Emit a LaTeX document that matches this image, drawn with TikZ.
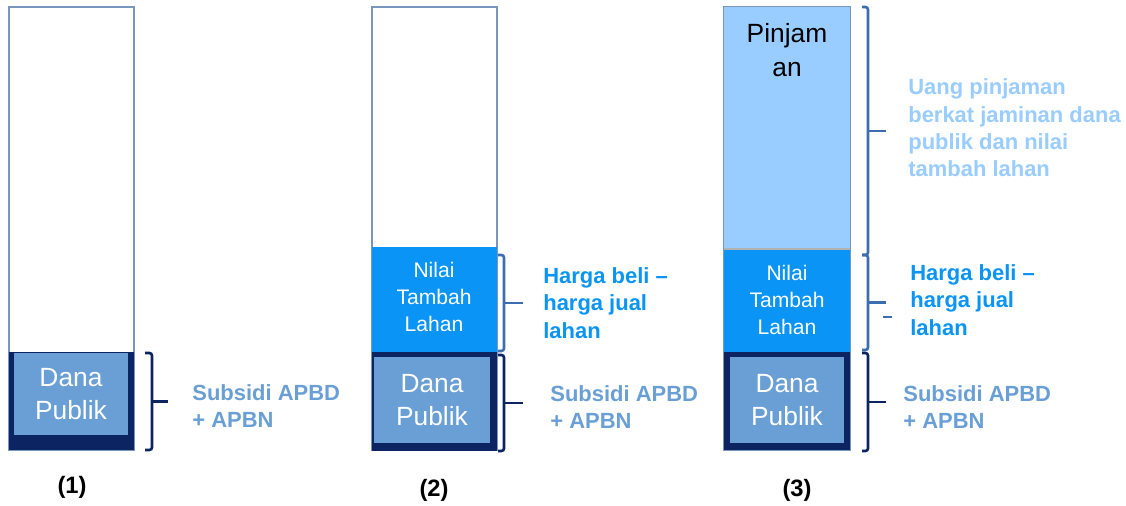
\documentclass[tikz,border=0pt]{standalone}
\usepackage{fontspec}
\setmainfont{Liberation Sans}
\usepackage{tikz}

\definecolor{navy}{RGB}{12,36,97}
\definecolor{publik}{RGB}{106,159,214}
\definecolor{nilai}{RGB}{10,148,245}
\definecolor{pinjam}{RGB}{153,204,255}
\definecolor{outline}{RGB}{120,150,190}
\definecolor{steel}{RGB}{58,110,175}

\tikzset{
	bar/.style={draw=outline, line width=0.6pt},
	boxtext/.style={align=center, text=white, inner sep=0pt},
	sidetext/.style={anchor=west, align=left, inner sep=0pt, font=\bfseries\fontsize{12.5}{15.6}\selectfont},
	caption/.style={inner sep=0pt, font=\bfseries\fontsize{13.5}{16}\selectfont},
	bracket/.style={line width=1.5pt, rounded corners=1.5pt}
}

% bracket: x0, x1, top, bottom, tip x, colour
\newcommand{\sidebracket}[6]{
	\draw[bracket, #6] (#1,#3) -- (#2,#3) -- (#2,#4) -- (#1,#4);
	\draw[bracket, #6] (#2,{(#3+#4)/2}) -- (#5,{(#3+#4)/2});
}

\begin{document}
\begin{tikzpicture}[x=0.02cm, y=-0.02cm]
	\useasboundingbox (0,0) rectangle (1126,506);

	% (1)
	\draw[bar] (9,7) rectangle (134,450);
	\fill[navy] (9,352) rectangle (134,450);
	\fill[publik] (14,353) rectangle (128,435);
	\node[boxtext, font=\fontsize{15}{18.7}\selectfont] (dana1) at (71,394) {Dana\\Publik};
	\sidebracket{145}{152}{353}{450}{168}{navy}
	\node[sidetext, text=publik] (subsidi1) at (192,406) {Subsidi APBD\\+ APBN};
	\node[caption] (cap1) at (72,487) {(1)};

	% (2)
	\draw[bar] (372,7) rectangle (497,450);
	\fill[nilai] (372,247) rectangle (497,352);
	\fill[navy] (372,352) rectangle (497,451);
	\fill[publik] (374,357) rectangle (490,443);
	\node[boxtext, font=\fontsize{12}{15.3}\selectfont] (nilai2) at (434,297) {Nilai\\Tambah\\Lahan};
	\node[boxtext, font=\fontsize{15}{18.7}\selectfont] (dana2) at (432,400) {Dana\\Publik};
	\sidebracket{498}{504}{255}{351}{523}{steel}
	\sidebracket{498}{504}{355}{451}{523}{navy}
	\node[sidetext, text=nilai] (harga2) at (543,303) {Harga beli --\\harga jual\\lahan};
	\node[sidetext, text=publik] (subsidi2) at (550,407) {Subsidi APBD\\+ APBN};
	\node[caption] (cap2) at (434,490) {(2)};

	% (3)
	\draw[bar] (724,7) rectangle (850,450);
	\fill[pinjam] (724,7) rectangle (850,250);
	\draw[gray!60, line width=0.8pt] (724,249) -- (850,249);
	\fill[nilai] (724,250) rectangle (850,352);
	\fill[navy] (724,352) rectangle (850,450);
	\fill[publik] (730,357) rectangle (844,443);
	\node[boxtext, text=black, font=\fontsize{15}{19.8}\selectfont] (pinjam3) at (787,50) {Pinjam\\an};
	\node[boxtext, font=\fontsize{12}{15.3}\selectfont] (nilai3) at (787,300) {Nilai\\Tambah\\Lahan};
	\node[boxtext, font=\fontsize{15}{18.7}\selectfont] (dana3) at (787,400) {Dana\\Publik};
	\sidebracket{862}{868}{7}{255}{886}{steel}
	\sidebracket{862}{868}{255}{350}{886}{steel}
	\draw[steel, line width=1.5pt] (883,317) -- (892,317);
	\sidebracket{862}{868}{353}{451}{886}{navy}
	\node[sidetext, text=pinjam] (uang3) at (908,128) {Uang pinjaman\\berkat jaminan dana\\publik dan nilai\\tambah lahan};
	\node[sidetext, text=nilai] (harga3) at (910,300) {Harga beli --\\harga jual\\lahan};
	\node[sidetext, text=publik] (subsidi3) at (903,407) {Subsidi APBD\\+ APBN};
	\node[caption] (cap3) at (797,490) {(3)};
\end{tikzpicture}
\end{document}
